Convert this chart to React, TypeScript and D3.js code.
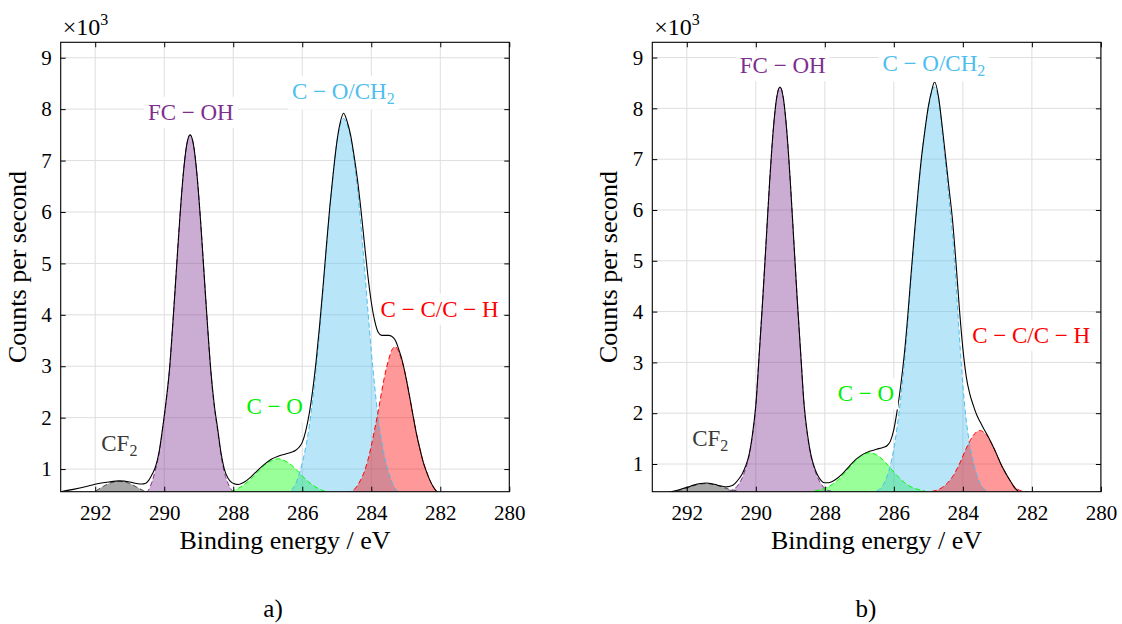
import * as d3 from 'd3';
import React, { useRef, useEffect } from 'react';

type Pt = [number, number];

// [binding energy eV, counts per second x10^3]
const aGray: Pt[] = [[292.2,0.52],[292.0,0.57],[291.8,0.65],[291.6,0.72],[291.45,0.75],[291.3,0.76],[291.15,0.75],[291.0,0.72],[290.8,0.65],[290.6,0.58],[290.4,0.53],[290.2,0.5]];
const aPurple: Pt[] = [[290.75,0.5],[290.65,0.51],[290.55,0.53],[290.45,0.6],[290.35,0.76],[290.25,1.0],[290.15,1.3],[290.05,1.76],[289.95,2.28],[289.85,2.9],[289.75,3.83],[289.65,4.85],[289.55,5.86],[289.45,6.72],[289.35,7.3],[289.25,7.5],[289.15,7.3],[289.05,6.72],[288.95,5.86],[288.85,4.85],[288.75,3.83],[288.65,2.9],[288.55,2.22],[288.45,1.74],[288.35,1.25],[288.25,0.92],[288.15,0.72],[288.05,0.6],[287.95,0.54],[287.85,0.51],[287.75,0.5]];
const aGreen: Pt[] = [[288.3,0.52],[288.1,0.555],[287.9,0.61],[287.7,0.69],[287.5,0.8],[287.3,0.94],[287.1,1.07],[286.9,1.16],[286.7,1.2],[286.5,1.16],[286.3,1.07],[286.1,0.94],[285.9,0.8],[285.7,0.69],[285.5,0.61],[285.3,0.555],[285.1,0.52]];
const aBlue: Pt[] = [[286.5,0.51],[286.4,0.54],[286.3,0.6],[286.2,0.7],[286.1,0.88],[286.0,1.12],[285.9,1.42],[285.8,1.82],[285.7,2.33],[285.6,2.94],[285.5,3.66],[285.4,4.45],[285.3,5.28],[285.2,6.07],[285.1,6.75],[285.0,7.33],[284.9,7.7],[284.8,7.82],[284.7,7.7],[284.6,7.45],[284.5,7.0],[284.4,6.45],[284.3,5.75],[284.2,4.95],[284.1,4.1],[284.0,3.3],[283.9,2.6],[283.8,2.0],[283.7,1.55],[283.6,1.2],[283.5,0.95],[283.4,0.75],[283.3,0.62],[283.2,0.55],[283.1,0.52],[283.0,0.5]];
const aRed: Pt[] = [[284.7,0.52],[284.6,0.55],[284.5,0.6],[284.4,0.68],[284.3,0.8],[284.2,0.95],[284.1,1.17],[284.0,1.45],[283.9,1.78],[283.8,2.12],[283.7,2.5],[283.6,2.85],[283.5,3.12],[283.4,3.32],[283.3,3.38],[283.2,3.27],[283.1,3.08],[283.0,2.8],[282.9,2.45],[282.8,2.08],[282.7,1.72],[282.6,1.42],[282.5,1.15],[282.4,0.95],[282.3,0.78],[282.2,0.65],[282.1,0.56],[282.0,0.52]];
const aEnvelope: Pt[] = [[293.0,0.56],[292.6,0.61],[292.2,0.67],[291.9,0.72],[291.6,0.75],[291.3,0.77],[291.0,0.75],[290.8,0.72],[290.65,0.71],[290.55,0.72],[290.45,0.78],[290.35,0.9],[290.25,1.05],[290.15,1.33],[290.05,1.78],[289.95,2.3],[289.85,2.92],[289.75,3.84],[289.65,4.85],[289.55,5.86],[289.45,6.72],[289.35,7.3],[289.25,7.5],[289.15,7.3],[289.05,6.72],[288.95,5.86],[288.85,4.85],[288.75,3.84],[288.65,2.92],[288.55,2.25],[288.45,1.78],[288.35,1.3],[288.25,0.98],[288.15,0.82],[288.05,0.74],[287.95,0.71],[287.85,0.7],[287.7,0.74],[287.5,0.84],[287.3,0.97],[287.1,1.09],[286.9,1.19],[286.7,1.25],[286.5,1.29],[286.3,1.33],[286.2,1.36],[286.1,1.42],[286.0,1.52],[285.9,1.74],[285.8,2.07],[285.7,2.52],[285.6,3.09],[285.5,3.77],[285.4,4.53],[285.3,5.34],[285.2,6.11],[285.1,6.77],[285.0,7.35],[284.9,7.74],[284.8,7.92],[284.7,7.76],[284.6,7.5],[284.5,7.1],[284.4,6.63],[284.3,6.05],[284.2,5.4],[284.1,4.77],[284.0,4.25],[283.9,3.88],[283.8,3.66],[283.7,3.6],[283.6,3.6],[283.5,3.6],[283.4,3.58],[283.3,3.5],[283.2,3.32],[283.1,3.1],[283.0,2.8],[282.9,2.45],[282.8,2.08],[282.7,1.72],[282.6,1.42],[282.5,1.15],[282.4,0.95],[282.3,0.78],[282.2,0.65],[282.1,0.56],[282.0,0.52]];

const bGray: Pt[] = [[292.5,0.455],[292.3,0.47],[292.1,0.5],[291.9,0.55],[291.7,0.595],[291.55,0.61],[291.44,0.615],[291.3,0.605],[291.1,0.575],[290.9,0.53],[290.7,0.49],[290.5,0.465]];
const bPurple: Pt[] = [[290.8,0.46],[290.7,0.48],[290.6,0.52],[290.5,0.6],[290.4,0.72],[290.3,0.9],[290.2,1.15],[290.1,1.55],[290.0,2.15],[289.9,3.18],[289.8,4.24],[289.7,5.4],[289.6,6.55],[289.5,7.53],[289.4,8.19],[289.3,8.42],[289.2,8.19],[289.1,7.53],[289.0,6.55],[288.9,5.4],[288.8,4.24],[288.7,3.18],[288.6,2.15],[288.5,1.55],[288.4,1.15],[288.3,0.9],[288.2,0.72],[288.1,0.6],[288.0,0.52],[287.9,0.48],[287.8,0.46]];
const bGreen: Pt[] = [[288.3,0.47],[288.1,0.5],[287.9,0.55],[287.7,0.64],[287.5,0.77],[287.3,0.92],[287.1,1.07],[286.9,1.18],[286.7,1.22],[286.5,1.18],[286.3,1.07],[286.1,0.92],[285.9,0.77],[285.7,0.64],[285.5,0.55],[285.3,0.5],[285.1,0.47]];
const bBlue: Pt[] = [[286.5,0.47],[286.3,0.6],[286.1,0.98],[286.0,1.3],[285.9,1.75],[285.8,2.3],[285.7,2.95],[285.6,3.75],[285.5,4.65],[285.4,5.5],[285.3,6.3],[285.2,7.0],[285.1,7.55],[285.0,8.02],[284.9,8.32],[284.83,8.42],[284.7,8.15],[284.6,7.55],[284.5,6.9],[284.4,6.2],[284.3,5.5],[284.2,4.55],[284.1,3.5],[284.0,2.55],[283.9,1.85],[283.8,1.38],[283.7,1.05],[283.6,0.8],[283.5,0.62],[283.4,0.52],[283.3,0.47]];
const bRed: Pt[] = [[284.9,0.46],[284.7,0.5],[284.5,0.59],[284.3,0.75],[284.1,1.0],[283.9,1.31],[283.7,1.56],[283.52,1.66],[283.3,1.56],[283.1,1.31],[282.9,1.0],[282.7,0.75],[282.5,0.55],[282.3,0.47],[282.1,0.45]];
const bEnvelope: Pt[] = [[292.45,0.455],[292.2,0.5],[292.0,0.54],[291.8,0.585],[291.6,0.615],[291.44,0.625],[291.2,0.6],[291.0,0.565],[290.85,0.55],[290.7,0.57],[290.6,0.62],[290.5,0.7],[290.4,0.8],[290.3,0.95],[290.2,1.17],[290.1,1.57],[290.0,2.16],[289.9,3.18],[289.8,4.24],[289.7,5.4],[289.6,6.55],[289.5,7.53],[289.4,8.19],[289.3,8.42],[289.2,8.19],[289.1,7.53],[289.0,6.55],[288.9,5.4],[288.8,4.24],[288.7,3.18],[288.6,2.16],[288.5,1.57],[288.4,1.17],[288.3,0.93],[288.2,0.77],[288.1,0.67],[288.0,0.63],[287.9,0.63],[287.8,0.65],[287.7,0.69],[287.5,0.8],[287.3,0.95],[287.1,1.09],[286.9,1.19],[286.7,1.25],[286.5,1.29],[286.3,1.33],[286.2,1.36],[286.1,1.45],[286.0,1.68],[285.9,2.07],[285.8,2.55],[285.7,3.14],[285.6,3.89],[285.5,4.75],[285.4,5.57],[285.3,6.35],[285.2,7.03],[285.1,7.57],[285.0,8.04],[284.9,8.36],[284.82,8.52],[284.7,8.2],[284.6,7.65],[284.5,7.04],[284.4,6.42],[284.3,5.8],[284.2,4.97],[284.1,4.05],[284.0,3.27],[283.9,2.71],[283.8,2.38],[283.7,2.16],[283.6,1.97],[283.5,1.83],[283.4,1.7],[283.3,1.58],[283.2,1.45],[283.1,1.31],[283.0,1.16],[282.9,1.0],[282.8,0.87],[282.7,0.75],[282.6,0.64],[282.5,0.53],[282.4,0.47]];

const peakNames = ['CF', 'FC \u2212 OH', 'C \u2212 O', 'C \u2212 O/CH', 'C \u2212 C/C \u2212 H'];
const peakSubs = ['2', '', '', '2', ''];
const aLabelAt: Pt[] = [[291.3, 1.51], [289.23, 7.95], [286.8, 2.22], [284.81, 8.36], [282.02, 4.12]];
const bLabelAt: Pt[] = [[291.32, 1.52], [289.22, 8.85], [286.81, 2.39], [284.84, 8.9], [282.02, 3.54]];

const xTicks = [292, 290, 288, 286, 284, 282, 280];
const yTicks = [1, 2, 3, 4, 5, 6, 7, 8, 9];

const peakColors = ['#4d4d4d', '#7E2F8E', '#00FF00', '#4DBEEE', '#FF0000'];
const labelColors = ['#3a3a3a', '#7E2F8E', '#00F000', '#4DBEEE', '#FF0000'];
const FONT = 'Liberation Serif';

function App() {
  const svgRef = useRef<SVGSVGElement>(null);

  useEffect(() => {
    const width = 1122;
    const height = 624;
    const plotTop = 42.3;
    const plotBottom = 491.7;
    const plotW = 448.6;

    const panels = [
      { left: 60.7, yMin: 0.56, comps: [aGray, aPurple, aGreen, aBlue, aRed], env: aEnvelope, labels: aLabelAt, tag: 'a)', tagX: 273 },
      { left: 652.3, yMin: 0.455, comps: [bGray, bPurple, bGreen, bBlue, bRed], env: bEnvelope, labels: bLabelAt, tag: 'b)', tagX: 866 },
    ];

    const svg = d3.select(svgRef.current);
    svg.selectAll('*').remove();
    svg.attr('width', width).attr('height', height);
    svg.append('rect').attr('width', width).attr('height', height).attr('fill', '#fff');

    panels.forEach((p, i) => {
      const x = d3.scaleLinear().domain([293, 280]).range([p.left, p.left + plotW]);
      const y = d3.scaleLinear().domain([p.yMin, 9.3]).range([plotBottom, plotTop]);
      const g = svg.append('g').attr('font-family', FONT);

      const clipId = `plot-clip-${i}`;
      g.append('clipPath')
        .attr('id', clipId)
        .append('rect')
        .attr('x', p.left)
        .attr('y', plotTop)
        .attr('width', plotW)
        .attr('height', plotBottom - plotTop);

      /* grid */
      g.append('g')
        .selectAll('line')
        .data(xTicks)
        .join('line')
        .attr('x1', (d) => x(d))
        .attr('x2', (d) => x(d))
        .attr('y1', plotTop)
        .attr('y2', plotBottom)
        .attr('stroke', '#dedede')
        .attr('stroke-width', 1);
      g.append('g')
        .selectAll('line')
        .data(yTicks)
        .join('line')
        .attr('x1', p.left)
        .attr('x2', p.left + plotW)
        .attr('y1', (d) => y(d))
        .attr('y2', (d) => y(d))
        .attr('stroke', '#dedede')
        .attr('stroke-width', 1);

      /* components */
      const plot = g.append('g').attr('clip-path', `url(#${clipId})`);
      const area = d3
        .area<Pt>()
        .x((d) => x(d[0]))
        .y0(plotBottom)
        .y1((d) => y(d[1]))
        .curve(d3.curveMonotoneX);
      const line = d3
        .line<Pt>()
        .x((d) => x(d[0]))
        .y((d) => y(d[1]))
        .curve(d3.curveMonotoneX);

      p.comps.forEach((c, k) => {
        plot
          .append('path')
          .attr('d', area(c))
          .attr('fill', peakColors[k])
          .attr('fill-opacity', k === 0 ? 0.5 : 0.4);
      });
      p.comps.forEach((c, k) => {
        plot
          .append('path')
          .attr('d', line(c))
          .attr('fill', 'none')
          .attr('stroke', peakColors[k])
          .attr('stroke-width', 1)
          .attr('stroke-dasharray', '5,3');
      });
      plot
        .append('path')
        .attr('d', line(p.env))
        .attr('fill', 'none')
        .attr('stroke', '#000')
        .attr('stroke-width', 1.1);

      /* peak labels on white boxes */
      const labels = g.append('g');
      p.labels.forEach((pos, k) => {
        const lg = labels.append('g');
        const t = lg
          .append('text')
          .attr('x', x(pos[0]))
          .attr('y', y(pos[1]))
          .attr('dy', '0.35em')
          .attr('text-anchor', 'middle')
          .attr('font-family', FONT)
          .attr('font-size', 23)
          .attr('fill', labelColors[k]);
        t.append('tspan').text(peakNames[k]);
        if (peakSubs[k]) t.append('tspan').attr('font-size', 16).attr('dy', 5).text(peakSubs[k]);
        const bb = (t.node() as SVGTextElement).getBBox();
        lg.insert('rect', 'text')
          .attr('x', bb.x - 4)
          .attr('y', bb.y - 3)
          .attr('width', bb.width + 8)
          .attr('height', bb.height + 6)
          .attr('fill', '#fff');
      });

      /* axes */
      const xAxis = g
        .append('g')
        .attr('transform', `translate(0,${plotBottom})`)
        .call(d3.axisBottom(x).tickValues(xTicks).tickSizeInner(-5).tickSizeOuter(0).tickPadding(13));
      const yAxis = g
        .append('g')
        .attr('transform', `translate(${p.left},0)`)
        .call(d3.axisLeft(y).tickValues(yTicks).tickSizeInner(-5).tickSizeOuter(0).tickPadding(9));
      const topAxis = g
        .append('g')
        .attr('transform', `translate(0,${plotTop})`)
        .call(d3.axisTop(x).tickValues(xTicks).tickSizeInner(-5).tickSizeOuter(0).tickFormat(() => ''));
      const rightAxis = g
        .append('g')
        .attr('transform', `translate(${p.left + plotW},0)`)
        .call(d3.axisRight(y).tickValues(yTicks).tickSizeInner(-5).tickSizeOuter(0).tickFormat(() => ''));
      [xAxis, yAxis, topAxis, rightAxis].forEach((a) => {
        a.attr('font-family', FONT).attr('font-size', 21);
        a.select('.domain').remove();
        a.selectAll('line').attr('stroke', '#000');
        a.selectAll('text').attr('font-family', FONT).attr('font-size', 21).attr('fill', '#000');
      });

      g.append('rect')
        .attr('x', p.left)
        .attr('y', plotTop)
        .attr('width', plotW)
        .attr('height', plotBottom - plotTop)
        .attr('fill', 'none')
        .attr('stroke', '#000')
        .attr('stroke-width', 1.1);

      /* exponent */
      const ex = g
        .append('text')
        .attr('x', p.left + 2)
        .attr('y', 35)
        .attr('font-family', FONT)
        .attr('font-size', 24);
      ex.append('tspan').text('\u00d710');
      ex.append('tspan').attr('font-size', 16).attr('dy', -10).text('3');

      /* titles */
      g.append('text')
        .attr('x', p.left + plotW / 2)
        .attr('y', 549)
        .attr('text-anchor', 'middle')
        .attr('font-family', FONT)
        .attr('font-size', 26)
        .text('Binding energy / eV');
      g.append('text')
        .attr('transform', `translate(${p.left - 35},${(plotTop + plotBottom) / 2}) rotate(-90)`)
        .attr('text-anchor', 'middle')
        .attr('font-family', FONT)
        .attr('font-size', 26)
        .text('Counts per second');
      g.append('text')
        .attr('x', p.tagX)
        .attr('y', 617)
        .attr('text-anchor', 'middle')
        .attr('font-family', FONT)
        .attr('font-size', 25)
        .text(p.tag);
    });
  }, []);

  return (
    <svg ref={svgRef} style={{ position: 'absolute', left: 0, top: 0, display: 'block' }}></svg>
  );
}

export default App;
